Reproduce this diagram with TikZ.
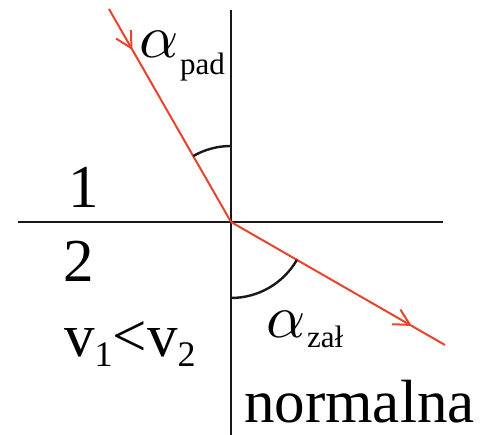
\documentclass[tikz,border=0pt]{standalone}
\usepackage{fontspec}
\setmainfont{Liberation Serif}
\usetikzlibrary{arrows.meta,decorations.markings}
\definecolor{ray}{RGB}{232,68,45}
\tikzset{
  axis/.style={line width=2.6pt, black!90},
  rayline/.style={line width=2pt, ray},
  anglearc/.style={line width=2.4pt, black!90},
  big/.style={inner sep=0pt, anchor=base west, font=\fontsize{61}{61}\selectfont},
  greek/.style={inner sep=0pt, anchor=base west},
  small/.style={inner sep=0pt, anchor=base west, font=\fontsize{31}{31}\selectfont},
  barb/.style={ray, line width=2pt}
}
\newcommand{\bigalpha}{\scalebox{6.1}{$\alpha$}}
\begin{document}
\begin{tikzpicture}[x=1pt,y=1pt]
\useasboundingbox (0,0) rectangle (488,435);
\coordinate (O) at (231,213);
\coordinate (A) at (109,426);
\coordinate (B) at (445,90);
\coordinate (vt) at (231,425);
\coordinate (vb) at (231,0);
\coordinate (hl) at (18,213);
\coordinate (hr) at (443,213);
\draw[axis] (vt) -- (vb);
\draw[axis] (hl) -- (hr);
\draw[rayline, postaction={decorate}, decoration={markings, mark=at position 0.193 with {\arrow[barb]{Straight Barb[length=16pt, width=17pt]}}}] (A) -- (O);
\draw[rayline, postaction={decorate}, decoration={markings, mark=at position 0.845 with {\arrow[barb]{Straight Barb[length=16pt, width=17pt]}}}] (O) -- (B);
\draw[anglearc] ([shift={(90:76)}]O) arc[start angle=90, end angle=119.8, radius=76];
\draw[anglearc] ([shift={(-90:76)}]O) arc[start angle=-90, end angle=-30, radius=76];
\node[greek] (apad) at (139,377) {\bigalpha};
\node[small] (pad) at (180,360) {pad};
\node[greek] (azal) at (266,97) {\bigalpha};
\node[small] (zal) at (307,87) {zał};
\node[big] (one) at (68,227) {1};
\node[big] (two) at (63,153) {2};
\node[big] (vv) at (64,78) {v\lower10pt\hbox{\fontsize{36}{36}\selectfont 1}<v\lower10pt\hbox{\fontsize{36}{36}\selectfont 2}};
\node[big] (norm) at (244,12) {normalna};
\end{tikzpicture}
\end{document}
